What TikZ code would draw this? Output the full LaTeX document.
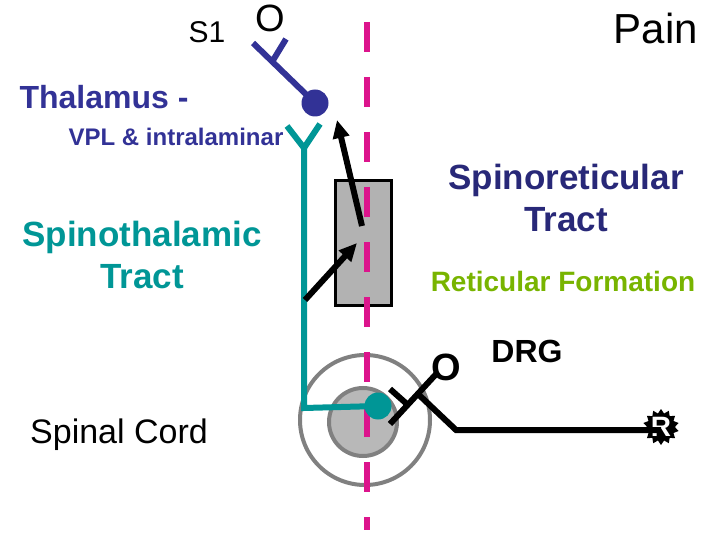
\documentclass[tikz,border=0pt]{standalone}
\usepackage{fontspec}
\setmainfont{Liberation Sans}
\usetikzlibrary{arrows.meta,shapes.geometric}
\definecolor{mag}{RGB}{220,20,140}
\definecolor{blu}{RGB}{50,50,150}
\definecolor{tea}{RGB}{0,150,150}
\definecolor{olv}{RGB}{120,180,0}
\definecolor{dblu}{RGB}{40,40,120}
\begin{document}
\begin{tikzpicture}[x=1pt,y=-1pt,
  txt/.style={inner sep=0,align=center},
  nerve/.style={line width=6pt},
  arr/.style={line width=6pt,-{Triangle[length=18pt,width=16pt]}}]
\useasboundingbox (0,0) rectangle (720,540);
% circles
\node[circle,draw=gray,line width=4pt,minimum size=130pt] (outer) at (365,420) {};
\node[circle,draw=gray,fill=black!28,line width=4pt,minimum size=68pt] (inner) at (363,422) {};
% box
\node[draw=black,fill=black!30,line width=3pt,minimum width=56pt,minimum height=124pt,inner sep=0] (box) at (363,243) {};
% midline
\coordinate (m1) at (367,22); \coordinate (m2) at (367,530);
\draw[mag,line width=6pt,dash pattern=on 30pt off 25pt] (m1) -- (m2);
% texts
\node[txt,font=\fontsize{30}{30}\selectfont] (s1) at (207,32) {S1};
\node[txt,font=\fontsize{38}{38}\selectfont] (o1) at (270,18) {O};
\node[txt,font=\fontsize{42}{42}\selectfont] (pain) at (656,28) {Pain};
\node[txt,blu,font=\bfseries\fontsize{32}{32}\selectfont] (thal) at (104,97) {Thalamus -};
\node[txt,blu,font=\bfseries\fontsize{24}{24}\selectfont] (vpl) at (176,137) {VPL \& intralaminar};
\node[txt,dblu,font=\bfseries\fontsize{35}{42}\selectfont] (sr) at (566,198) {Spinoreticular\\Tract};
\node[txt,tea,font=\bfseries\fontsize{35}{42}\selectfont] (st) at (142,255) {Spinothalamic\\Tract};
\node[txt,olv,font=\bfseries\fontsize{28}{28}\selectfont] (rf) at (563,281) {Reticular Formation};
\node[txt,font=\bfseries\fontsize{32}{32}\selectfont] (drg) at (527,351) {DRG};
\node[txt,font=\fontsize{34}{34}\selectfont] (sc) at (119,435) {Spinal Cord};
\node[txt,font=\bfseries\fontsize{38}{38}\selectfont] (o2) at (446,367) {O};
% blue neuron
\node[circle,fill=blu,minimum size=27pt,inner sep=0] (bdot) at (315,103) {};
\coordinate (b0) at (253,43); \coordinate (bt1) at (286,39); \coordinate (bt2) at (272,62);
\draw[blu,nerve] (b0) -- (bdot.center);
\draw[blu,nerve] (bt1) -- (bt2);
% teal tract
\node[circle,fill=tea,minimum size=27pt,inner sep=0] (tdot) at (378,406) {};
\coordinate (ty) at (304,148); \coordinate (ta) at (287,126); \coordinate (tb) at (320,124);
\coordinate (tc) at (304,408);
\draw[tea,nerve] (ta) -- (ty) -- (tb);
\draw[tea,nerve] (ty) -- (tc) -- (tdot.center);
% arrows
\coordinate (a1s) at (362,226); \coordinate (a1e) at (337,120);
\coordinate (a2s) at (305,300); \coordinate (a2e) at (357,243);
\draw[arr] (a1s) -- (a1e);
\draw[arr] (a2s) -- (a2e);
% DRG neuron
\coordinate (d0) at (390,424); \coordinate (d1) at (438,372);
\coordinate (dk1) at (390,389); \coordinate (dk2) at (408,405);
\coordinate (db) at (418,394); \coordinate (dc) at (456,430);
\node[star,star points=14,star point ratio=1.3,fill=black,minimum size=36pt,inner sep=0] (r) at (661,427) {};
\node[white,font=\bfseries\fontsize{28}{28}\selectfont,inner sep=0] (rl) at (r) {R};
\draw[nerve] (d0) -- (d1);
\draw[nerve] (dk1) -- (dk2);
\draw[nerve] (db) -- (dc) -- (r.center |- dc);
\end{tikzpicture}
\end{document}
